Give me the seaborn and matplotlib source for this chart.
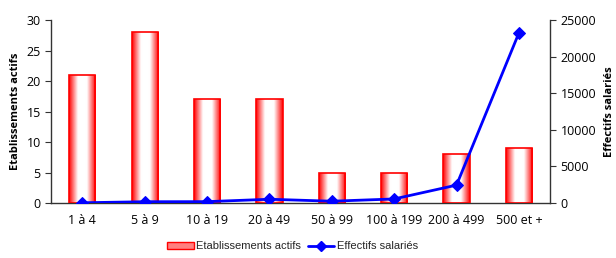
import numpy as np
import pandas as pd
import matplotlib
matplotlib.use('Agg')
import matplotlib.pyplot as plt
import seaborn as sns
from matplotlib.colors import LinearSegmentedColormap
from matplotlib.lines import Line2D
from matplotlib.patches import Patch

# données
categories = ['1 à 4', '5 à 9', '10 à 19', '20 à 49', '50 à 99', '100 à 199', '200 à 499', '500 et +']
etablissements = [21, 28, 17, 17, 5, 5, 8, 9]
effectifs = [40, 180, 190, 520, 250, 560, 2450, 23250]

df = pd.DataFrame({'taille': categories, 'etab': etablissements, 'eff': effectifs})

sns.set_style('white')
plt.rcParams['font.family'] = ['Open Sans', 'DejaVu Sans']

fig = plt.figure(figsize=(6.16, 2.58), dpi=100)
ax = fig.add_axes([0.083, 0.213, 0.81, 0.709])

sns.barplot(data=df, x='taille', y='etab', ax=ax, width=0.42,
            color='white', edgecolor='red', linewidth=1.2, zorder=2)

# dégradé rouge-blanc-rouge dans les barres
cmap = LinearSegmentedColormap.from_list('rw', ['#ff0000', '#ffffff', '#ffffff', '#ff0000'])
grad = np.linspace(0, 1, 256).reshape(1, -1)
for p in ax.patches:
    x0, y0 = p.get_x(), p.get_y()
    w, h = p.get_width(), p.get_height()
    im = ax.imshow(grad, cmap=cmap, aspect='auto', extent=[x0, x0 + w, y0, y0 + h],
                   zorder=2.5, interpolation='bicubic')
    im.set_clip_path(p)
    p.set_facecolor('none')
    p.set_zorder(3)

ax.set_xlim(-0.5, len(categories) - 0.5)
ax.set_ylim(0, 30)
ax.set_yticks([0, 5, 10, 15, 20, 25, 30])
ax.set_xlabel('')
ax.set_ylabel('Etablissements actifs', fontsize=8, fontweight='bold', color='black')
ax.set_xticks(np.arange(-0.5, len(categories), 1), minor=False)
ax.set_xticklabels([])
ax.set_xticks(range(len(categories)), minor=True)
ax.set_xticklabels(categories, minor=True, fontsize=9)
ax.tick_params(axis='x', which='major', direction='out', length=4, color='#333333')
ax.tick_params(axis='x', which='minor', length=0, pad=8, labelcolor='black')
ax.tick_params(axis='y', direction='out', length=4, labelsize=9, color='#333333', labelcolor='black')

ax2 = ax.twinx()
sns.lineplot(x=np.arange(len(categories)), y=effectifs, ax=ax2, color='#0000ff',
             linewidth=2, marker='D', markersize=6, markeredgecolor='#0000ff', zorder=5)
ax2.set_ylim(0, 25000)
ax2.set_yticks([0, 5000, 10000, 15000, 20000, 25000])
ax2.set_ylabel('Effectifs salariés', fontsize=8, fontweight='bold', color='black', labelpad=6)
ax2.tick_params(axis='y', direction='out', length=4, labelsize=9, color='#333333', labelcolor='black')
ax2.set_xlim(-0.5, len(categories) - 0.5)

for a in (ax, ax2):
    a.spines['top'].set_visible(False)
    for s in ('left', 'right', 'bottom'):
        a.spines[s].set_color('#333333')
        a.spines[s].set_linewidth(1)
ax.spines['right'].set_visible(False)
ax2.spines['left'].set_visible(False)
ax2.spines['bottom'].set_visible(False)

handles = [Patch(facecolor='#ff8080', edgecolor='red', label='Etablissements actifs'),
           Line2D([0], [0], color='#0000ff', lw=2, marker='D', markersize=5, label='Effectifs salariés')]
fig.legend(handles=handles, loc='center', bbox_to_anchor=(0.475, 0.045), ncol=2, frameon=False,
           prop={'family': 'Liberation Sans', 'size': 8}, handlelength=2.4, columnspacing=0.6,
           handletextpad=0.2)

fig.savefig('out.png', dpi=100)
